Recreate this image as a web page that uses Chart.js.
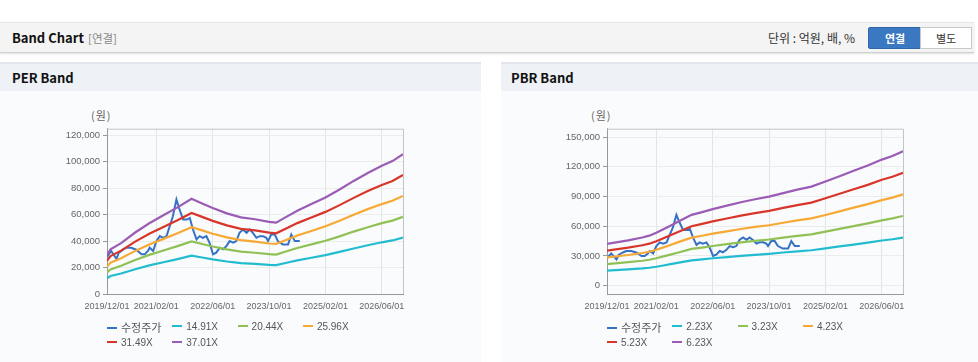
<!DOCTYPE html>
<html><head><meta charset="utf-8">
<script src="https://cdn.jsdelivr.net/npm/chart.js@4.4.1/dist/chart.umd.min.js"></script>
<style>
html,body{margin:0;padding:0;background:#fff;width:978px;height:362px;overflow:hidden;font-family:"Noto Sans CJK KR","Noto Sans",sans-serif;}
.abs{position:absolute;}
#topbar{left:0;top:22px;width:974px;height:29px;background:#f4f4f4;border-top:1px solid #e6e6e6;border-bottom:1px solid #cfcfcf;box-shadow:0 1px 2px rgba(0,0,0,0.12);}
.ttl{font-weight:bold;font-size:13px;color:#111;line-height:16px;}
.panel{top:62px;height:300px;background:#fafbfc;}
.phead{left:0;top:0;right:0;height:27px;background:#eef1f6;border-top:2px solid #e2e6ec;}
.unit{font-size:11px;color:#666;line-height:13px;letter-spacing:1px;}
.leg{font-size:10px;color:#555;line-height:12px;white-space:nowrap;font-family:"Liberation Sans","Noto Sans CJK KR",sans-serif;}
.leg i{display:inline-block;width:10px;height:2px;vertical-align:middle;margin-right:4px;position:relative;top:-1px;}
.ko{font-family:"Noto Sans CJK KR",sans-serif;font-size:11px;}
</style></head><body>
<div id="topbar" class="abs">
  <div class="abs ttl" style="left:12px;top:7px;">Band Chart</div>
  <div class="abs" style="left:88px;top:8px;font-size:11.5px;color:#888;line-height:14px;">[연결]</div>
  <div class="abs" style="left:768px;top:7px;font-size:12px;color:#333;line-height:15px;">단위 : 억원, 배, %</div>
  <div class="abs" style="left:868px;top:4px;width:52px;height:20px;background:#3a78c2;border:1px solid #2f66a8;border-radius:2px;color:#fff;font-weight:bold;font-size:11px;line-height:20px;text-align:center;">연결</div>
  <div class="abs" style="left:920px;top:4px;width:50px;height:20px;background:#fff;border:1px solid #c8c8c8;color:#333;font-size:11px;line-height:20px;text-align:center;">별도</div>
</div>

<div class="abs panel" style="left:0;width:481px;">
  <div class="abs phead"><div class="abs ttl" style="left:12px;top:6px;">PER Band</div></div>
</div>
<div class="abs panel" style="left:501px;width:477px;">
  <div class="abs phead"><div class="abs ttl" style="left:10px;top:6px;">PBR Band</div></div>
</div>

<div class="abs unit" style="left:91px;top:109px;">(원)</div>
<div class="abs unit" style="left:591px;top:109px;">(원)</div>

<canvas id="per" class="abs" width="383" height="200" style="left:40px;top:120px;"></canvas>
<canvas id="pbr" class="abs" width="383" height="200" style="left:540px;top:120px;"></canvas>

<div id="legPer"></div>
<div id="legPbr"></div>

<script>
// x tick labels
const xTickLabels = ['2019/12/01','2021/02/01','2022/06/01','2023/10/01','2025/02/01','2026/06/01'];
const xEndLabel = '2026/12/01';

// 수정주가 (adjusted price) — months since 2019/12/01 and values (원)
const priceMonths = [0,1.2,2.7,3.3,4.5,5.5,6.9,8.3,9.8,10.7,11.6,12.1,13.1,14.0,15.0,15.9,16.9,17.8,18.7,19.7,20.6,21.6,22.7,23.5,24.4,25.4,26.3,27.2,28.2,29.1,30.1,31.0,32.0,32.9,33.9,34.8,35.8,36.7,37.6,38.6,39.6,40.5,41.4,42.4,43.3,44.3,45.2,45.7,46.6,47.6,48.5,49.9,51.4,52.3,53.3,54.7];
const priceValues = [28000,32500,26500,31000,33500,35000,35000,33500,30000,30000,32500,35000,32500,40000,43750,42500,43750,51250,58750,71500,63750,56250,56250,57500,48750,41250,43750,42500,43750,38750,30000,31250,35000,33750,36250,40000,38750,40000,46250,48750,46250,48750,46250,42500,43750,43750,42500,40000,45000,45000,40000,37500,37500,45000,40000,40000];

// PER band (months since 2019/12/01)
const perMonths = [0,1,4,8,12,16,20,24,27,30,34,38,42,46,48,51,54,58,62,66,70,74,78,81,84];
const per1491 = [11900,13600,15500,18700,21600,24000,26400,29000,27600,26200,24600,23400,22800,22000,21800,23600,25400,27400,29400,31800,34400,36900,39100,40500,42600];
const per2044 = [16300,18600,21300,25700,29600,32900,36200,39800,37800,35900,33700,32000,31200,30100,29800,32300,34800,37500,40300,43600,47200,50500,53600,55500,58400];
const per2596 = [20700,23700,27000,32600,37500,41700,45900,50500,48100,45600,42800,40700,39600,38200,37900,41000,44200,47700,51200,55400,60000,64200,68000,70500,74200];
const per3149 = [25100,28700,32800,39600,45500,50600,55700,61200,58300,55300,51900,49300,48100,46400,45900,49800,53600,57800,62100,67200,72700,77800,82500,85500,90000];
const per3701 = [29500,33800,38500,46500,53500,59500,65500,72000,68500,65000,61000,58000,56500,54500,54000,58500,63000,68000,73000,79000,85500,91500,97000,100500,105700];
const perNames = ['14.91X','20.44X','25.96X','31.49X','37.01X'];
const perTicks = [0,20000,40000,60000,80000,100000,120000];

// PBR band
const pbrMonths = [0,6,10,12,14,16,18,20,24,27,30,34,38,42,46,50,54,58,62,66,70,74,78,81,84];
const pbr223 = [15100,16400,17400,18100,19100,20400,21700,23000,25600,26600,27700,28900,30100,31200,32200,33500,34700,35800,37700,39600,41500,43400,45600,46900,48600];
const pbr323 = [21800,23700,25200,26200,27700,29600,31400,33300,37100,38500,40100,41900,43700,45300,46600,48500,50300,51800,54500,57300,60100,62900,66000,67900,70400];
const pbr423 = [28600,31000,33000,34300,36300,38700,41100,43700,48500,50400,52500,54900,57200,59300,61000,63500,65900,67900,71400,75000,78800,82400,86400,88900,92200];
const pbr523 = [35400,38400,40800,42400,44900,47800,50900,54000,60000,62400,64900,67800,70700,73300,75500,78500,81400,83900,88300,92800,97400,101800,106900,110000,114000];
const pbr623 = [42100,45700,48600,50500,53500,57000,60600,64300,71500,74300,77300,80800,84200,87300,89900,93500,97000,100000,105200,110500,116000,121300,127300,131000,135800];
const pbrNames = ['2.23X','3.23X','4.23X','5.23X','6.23X'];
const pbrTicks = [0,30000,60000,90000,120000,150000];

const priceName = '수정주가';
const bandColors = ['#22bcd0','#8fc155','#f6a935','#d8352b','#9a5cb4'];
const priceColor = '#3572c6';

function monthIndex(s){ const p = s.split('/').map(Number); return (p[0]-2019)*12 + (p[1]-12); }
const xTickMonths = xTickLabels.map(monthIndex);
const xMax = monthIndex(xEndLabel);

function pts(xs, ys){ return ys.map((v,i)=>({x:xs[i], y:v})); }

const boxPlugin = {
  id:'box',
  beforeDatasetsDraw(chart){
    const a = chart.chartArea, c = chart.ctx;
    c.save(); c.strokeStyle = '#c4c4c4'; c.lineWidth = 1;
    c.beginPath(); c.moveTo(a.left, a.top+0.5); c.lineTo(a.right+0.5, a.top+0.5); c.lineTo(a.right+0.5, a.bottom);
    c.stroke(); c.restore();
  }
};

function makeChart(id, bands, names, months, yMin, yMax, yTicks, padTop){
  const ds = bands.map((b,i)=>({label:names[i], data:pts(months,b), borderColor:bandColors[i], backgroundColor:bandColors[i], borderWidth:2.2, pointRadius:0, tension:0, fill:false}));
  ds.push({label:priceName, data:pts(priceMonths, priceValues), borderColor:priceColor, backgroundColor:priceColor, borderWidth:2, pointRadius:0, tension:0, fill:false});
  return new Chart(document.getElementById(id), {
    type:'line',
    data:{datasets:ds},
    options:{
      responsive:false, animation:false, devicePixelRatio:1,
      layout:{padding:{left:0, right:20, top:padTop, bottom:0}},
      plugins:{legend:{display:false}, tooltip:{enabled:false}},
      scales:{
        x:{type:'linear', min:0, max:xMax,
          afterBuildTicks:(s)=>{ s.ticks = xTickMonths.map(v=>({value:v})); },
          afterFit:(s)=>{ s.height = 26; },
          ticks:{autoSkip:false, maxRotation:0, padding:7, color:'#666',
            font:{family:'"Liberation Sans", Arial, sans-serif', size:9},
            callback:(v)=>{ const k = xTickMonths.indexOf(v); return k>=0 ? xTickLabels[k] : null; }},
          grid:{color:'#e4e4e4', drawTicks:false},
          border:{display:true, color:'#999'}
        },
        y:{type:'linear', min:yMin, max:yMax,
          afterBuildTicks:(s)=>{ s.ticks = yTicks.map(v=>({value:v})); },
          afterFit:(s)=>{ s.width = 67; },
          ticks:{padding:3, color:'#666',
            font:{family:'"Liberation Sans", Arial, sans-serif', size:9.5},
            callback:(v)=>v.toLocaleString('en-US')},
          grid:{color:'#ececec', tickColor:'#999', tickLength:4},
          border:{display:true, color:'#999'}
        }
      }
    },
    plugins:[boxPlugin]
  });
}

makeChart('per', [per1491,per2044,per2596,per3149,per3701], perNames, perMonths, 0, 125000, perTicks, 7);
makeChart('pbr', [pbr223,pbr323,pbr423,pbr523,pbr623], pbrNames, pbrMonths, -8400, 158500, pbrTicks, 8);

function legend(elId, left, names){
  const items = [{n:priceName, c:priceColor, ko:true}].concat(names.map((n,i)=>({n:n, c:bandColors[i]})));
  const host = document.getElementById(elId);
  items.forEach((it,i)=>{
    const d = document.createElement('div');
    d.className = 'abs leg';
    d.style.left = (left + (i%4)*65.3) + 'px';
    d.style.top = (i<4 ? 321 : 337) + 'px';
    d.innerHTML = '<i style="background:'+it.c+'"></i><span class="'+(it.ko?'ko':'')+'">'+it.n+'</span>';
    host.appendChild(d);
  });
}
legend('legPer', 107, perNames);
legend('legPbr', 607, pbrNames);
</script>
</body></html>
